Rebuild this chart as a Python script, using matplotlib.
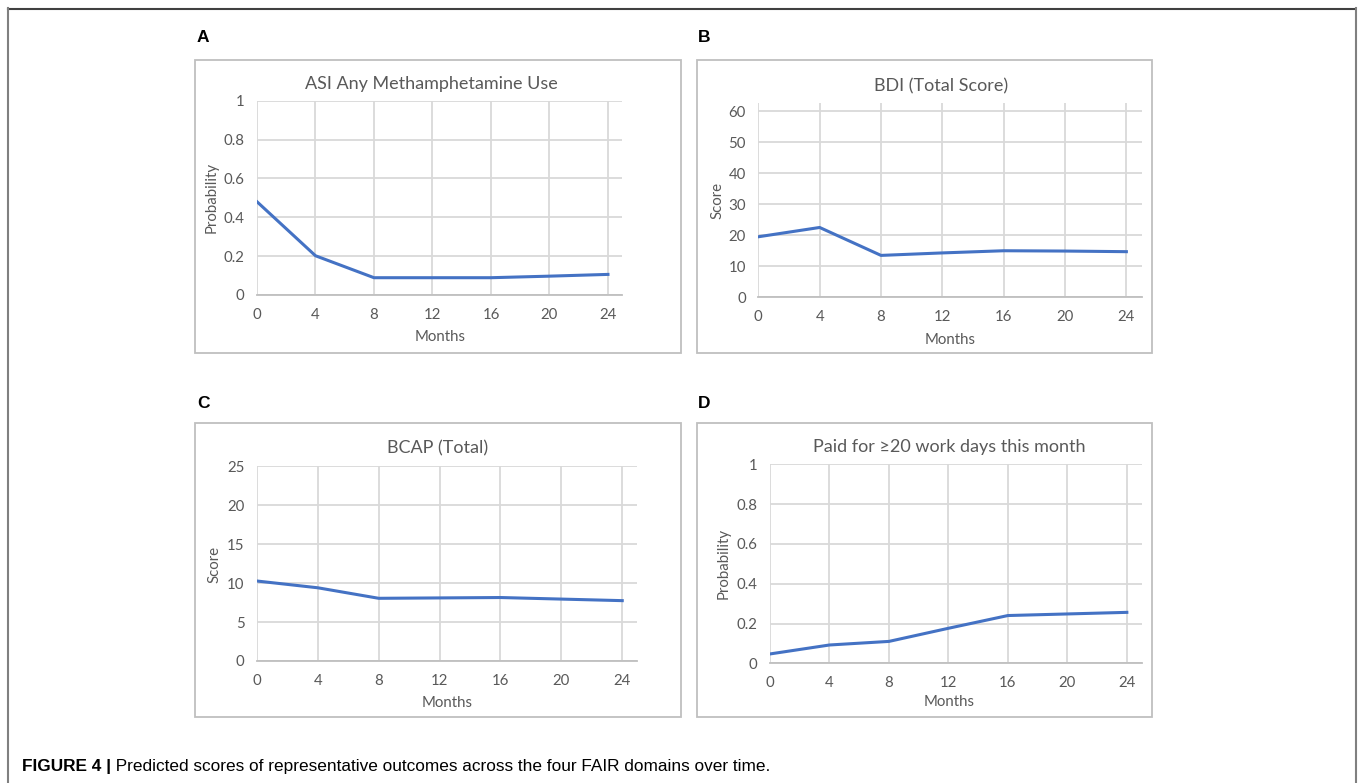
import matplotlib
matplotlib.use("Agg")
import matplotlib.pyplot as plt
from matplotlib.patches import Rectangle
from matplotlib.lines import Line2D

W, H = 1358, 783
months = [0, 4, 8, 12, 16, 20, 24]

asi_prob = [0.48, 0.202, 0.089, 0.089, 0.089, 0.097, 0.106]
bdi_score = [19.5, 22.5, 13.5, 14.3, 15.0, 14.9, 14.7]
bcap_score = [10.27, 9.4, 8.05, 8.1, 8.15, 7.95, 7.75]
paid_prob = [0.047, 0.092, 0.11, 0.176, 0.24, 0.248, 0.256]

titles = ["ASI Any Methamphetamine Use", "BDI (Total Score)", "BCAP (Total)",
          "Paid for \u226520 work days this month"]
ylabels = ["Probability", "Score", "Score", "Probability"]
letters = ["A", "B", "C", "D"]
yticks_list = [[0, 0.2, 0.4, 0.6, 0.8, 1], [0, 10, 20, 30, 40, 50, 60],
               [0, 5, 10, 15, 20, 25], [0, 0.2, 0.4, 0.6, 0.8, 1]]
ytick_labels = [["0", "0.2", "0.4", "0.6", "0.8", "1"],
                ["0", "10", "20", "30", "40", "50", "60"],
                ["0", "5", "10", "15", "20", "25"],
                ["0", "0.2", "0.4", "0.6", "0.8", "1"]]
series = [asi_prob, bdi_score, bcap_score, paid_prob]
caption_bold = "FIGURE 4 |"
caption_text = " Predicted scores of representative outcomes across the four FAIR domains over time."

FONT = "Lato"
GRAY_TXT = "#595959"
GRID = "#d9d9d9"
LINE = "#4472c4"

fig = plt.figure(figsize=(W / 100, H / 100), dpi=100)

def fx(x):
    return x / W

def fy(y):
    return 1 - y / H

# outer frame
fig.add_artist(Line2D([fx(8), fx(1355)], [fy(8.5), fy(8.5)], color="#404040", lw=1.5))
fig.add_artist(Line2D([fx(8), fx(8)], [fy(8), fy(783)], color="#808080", lw=1.5))
fig.add_artist(Line2D([fx(1355.5), fx(1355.5)], [fy(8), fy(783)], color="#808080", lw=1.5))

# layout (pixels)
boxes = [(195, 60, 681, 353), (697, 60, 1152, 353), (195, 423, 681, 717), (697, 423, 1152, 717)]
plots = [(257, 100.7, 622, 295, 24.96, 1.0),
         (758.3, 102.7, 1141.7, 297.3, 25.0, 62.7),
         (257, 466.3, 636.7, 661, 24.95, 25),
         (770, 464.3, 1141.7, 663.3, 25.0, 1.0)]
title_pos = [(431, 84), (941, 86), (438, 448), (949, 447)]
ylabel_pos = [(212, 197), (717, 200), (214, 564), (724, 563)]
xlabel_pos = [(440, 337), (950, 340), (447, 703), (949, 702)]
letter_pos = [(197, 38), (698, 38), (197, 404), (698, 404)]

for i in range(4):
    bx0, by0, bx1, by1 = boxes[i]
    fig.add_artist(Rectangle((fx(bx0), fy(by1)), fx(bx1 - bx0), (by1 - by0) / H,
                             fill=False, edgecolor="#bfbfbf", lw=1.3))
    l, t, r, b, xmax, ymax = plots[i]
    ax = fig.add_axes([fx(l), fy(b), fx(r - l), (b - t) / H])
    ax.plot(months, series[i], color=LINE, lw=2.2, solid_joinstyle="round", zorder=3)
    ax.set_xlim(0, xmax)
    ax.set_ylim(0, ymax)
    ax.set_xticks(months)
    ax.set_xticklabels([str(m) for m in months])
    ax.set_yticks(yticks_list[i])
    ax.set_yticklabels(ytick_labels[i])
    ax.grid(True, color=GRID, lw=1.3, zorder=0)
    ax.set_axisbelow(True)
    for s in ["top", "right", "left"]:
        ax.spines[s].set_visible(False)
    ax.spines["bottom"].set_color("#bfbfbf")
    ax.spines["bottom"].set_linewidth(1.3)
    ax.spines["bottom"].set_zorder(1)
    ax.tick_params(length=0, labelsize=10.8, labelcolor=GRAY_TXT)
    ax.tick_params(axis="y", pad=9)
    ax.tick_params(axis="x", pad=9.5)
    for lab in ax.get_xticklabels() + ax.get_yticklabels():
        lab.set_fontfamily(FONT)
    fig.text(fx(title_pos[i][0]), fy(title_pos[i][1]), titles[i], ha="center", va="center",
             fontsize=13, color=GRAY_TXT, family=[FONT, "DejaVu Sans"])
    fig.text(fx(ylabel_pos[i][0]), fy(ylabel_pos[i][1]), ylabels[i], ha="center", va="center",
             rotation=90, fontsize=10.8, color=GRAY_TXT, family=FONT)
    fig.text(fx(xlabel_pos[i][0]), fy(xlabel_pos[i][1]), "Months", ha="center", va="center",
             fontsize=10.8, color=GRAY_TXT, family=FONT)
    fig.text(fx(letter_pos[i][0]), fy(letter_pos[i][1]), letters[i], ha="left", va="center",
             fontsize=12.5, fontweight="bold", color="black", family="Liberation Sans")

t1 = fig.text(fx(22), fy(767), caption_bold, ha="left", va="center", fontsize=12.4,
              fontweight="bold", family="Liberation Sans")
fig.canvas.draw()
bb = t1.get_window_extent()
fig.text(bb.x1 / W, fy(767), caption_text, ha="left", va="center", fontsize=12.4,
         family="Liberation Sans")

fig.savefig("out.png", dpi=100)
